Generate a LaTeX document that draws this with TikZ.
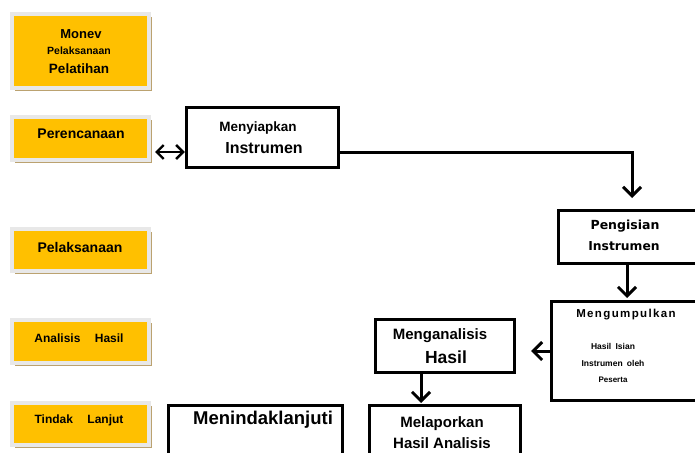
\documentclass[tikz,border=0pt]{standalone}
\usepackage{fontspec}
\setmainfont{Liberation Sans}
\newfontfamily\dvs{DejaVu Sans}
\newfontfamily\lsp[LetterSpace=12]{Liberation Sans}
\usetikzlibrary{arrows.meta,shadows,calc}
\definecolor{ygold}{HTML}{FFC000}
\definecolor{ytan}{HTML}{BBA270}
\definecolor{yedge}{HTML}{E8E8E8}
\tikzset{
  ybox/.style={draw=yedge,line width=4pt,fill=ygold,inner sep=0pt,
    drop shadow={shadow xshift=3pt,shadow yshift=-3pt,fill=ytan,opacity=1}},
  wbox/.style={draw=black,line width=3.5pt,fill=white,inner sep=0pt},
  conn/.style={draw=black,line width=3pt,-{Straight Barb[length=9pt,width=18pt,line width=3pt]}},
  dconn/.style={draw=black,line width=2.4pt,{Straight Barb[length=7pt,width=14pt,line width=2.4pt]}-{Straight Barb[length=7pt,width=14pt,line width=2.4pt]}},
  lab/.style={font=\bfseries,inner sep=0pt,align=center}
}
\begin{document}
\begin{tikzpicture}[x=1pt,y=-1pt]
\useasboundingbox (0,0) rectangle (695,452);
\clip (0,0) rectangle (695,452);
\fill[white] (0,0) rectangle (695,452);
% yellow boxes
\node[ybox,minimum width=137pt,minimum height=74pt] (b1) at (80.5,51) {};
\node[ybox,minimum width=137pt,minimum height=43pt] (b2) at (80.5,138.5) {};
\node[ybox,minimum width=137pt,minimum height=42pt] (b3) at (80.5,250) {};
\node[ybox,minimum width=137pt,minimum height=43pt] (b4) at (80.5,341.5) {};
\node[ybox,minimum width=137pt,minimum height=42pt] (b5) at (80.5,424) {};
\node[lab,font=\bfseries\fontsize{13}{13}\selectfont] (t1a) at (81,34) {Monev};
\node[lab,font=\bfseries\fontsize{10.5}{10.5}\selectfont] (t1b) at (79,51) {Pelaksanaan};
\node[lab,font=\bfseries\fontsize{13.5}{13.5}\selectfont] (t1c) at (79,69) {Pelatihan};
\node[lab,font=\bfseries\fontsize{14}{14}\selectfont] (t2) at (81,134) {Perencanaan};
\node[lab,font=\bfseries\fontsize{14}{14}\selectfont] (t3) at (80,247) {Pelaksanaan};
\node[lab,font=\bfseries\fontsize{12}{12}\selectfont] (t4) at (79,338) {Analisis\hspace{1.2em}Hasil};
\node[lab,font=\bfseries\fontsize{12}{12}\selectfont] (t5) at (79,420) {Tindak\hspace{1.2em}Lanjut};
% white boxes
\node[wbox,minimum width=152pt,minimum height=60pt] (mi) at (262.5,137.5) {};
\node[wbox,minimum width=181.5pt,minimum height=53pt] (pi) at (649.25,237) {};
\node[wbox,minimum width=188.5pt,minimum height=99pt] (mk) at (645.75,351) {};
\node[wbox,minimum width=139pt,minimum height=53pt] (ma) at (445,346) {};
\node[wbox,minimum width=151pt,minimum height=75pt] (ml) at (445,442.75) {};
\node[wbox,minimum width=174pt,minimum height=75pt] (mt) at (255.5,442.75) {};
% texts in white boxes
\node[lab,font=\bfseries\fontsize{13.5}{13.5}\selectfont] (tmi1) at (258,128) {Menyiapkan};
\node[lab,font=\bfseries\fontsize{16}{16}\selectfont] (tmi2) at (264,148) {Instrumen};
\node[lab,font=\dvs\bfseries\fontsize{12.5}{12.5}\selectfont] (tpi1) at (625,226) {Pengisian};
\node[lab,font=\dvs\bfseries\fontsize{12.3}{12.3}\selectfont] (tpi2) at (624,246) {Instrumen};
\node[lab,font=\lsp\bfseries\fontsize{11.5}{11.5}\selectfont] (tmk1) at (626,315) {Mengumpulkan};
\node[lab,font=\bfseries\fontsize{8.5}{8.5}\selectfont] (tmk2) at (613,346) {Hasil\hspace{0.5em}Isian};
\node[lab,font=\bfseries\fontsize{8.5}{8.5}\selectfont] (tmk3) at (613,363) {Instrumen\hspace{0.5em}oleh};
\node[lab,font=\bfseries\fontsize{8}{8}\selectfont] (tmk4) at (613,380) {Peserta};
\node[lab,font=\bfseries\fontsize{15}{15}\selectfont] (tma1) at (440,336) {Menganalisis};
\node[lab,font=\bfseries\fontsize{17.5}{17.5}\selectfont] (tma2) at (446,357) {Hasil};
\node[lab,font=\bfseries\fontsize{15}{15}\selectfont] (tml1) at (442,424) {Melaporkan};
\node[lab,font=\bfseries\fontsize{15}{15}\selectfont] (tml2) at (442,443) {Hasil Analisis};
\node[lab,font=\bfseries\fontsize{18.5}{18.5}\selectfont] (tmt) at (263,420) {Menindaklanjuti};
% connectors
\coordinate (c1) at ($(b2.east)+(4,13.5)$);
\draw[dconn] (c1) -- (mi.west |- c1);
\coordinate (c2) at ($(mi.east)+(0,14.5)$);
\coordinate (c3) at (632,198);
\draw[conn] (c2) -| (c3);
\coordinate (c4) at (pi.south -| 627,0);
\coordinate (c5) at (627,298);
\draw[conn] (c4) -- (c5);
\coordinate (c6) at (531,351);
\draw[conn] (mk.west) -- (c6);
\coordinate (c7) at (ma.south -| 421,0);
\coordinate (c8) at (421,403);
\draw[conn] (c7) -- (c8);
\end{tikzpicture}
\end{document}
